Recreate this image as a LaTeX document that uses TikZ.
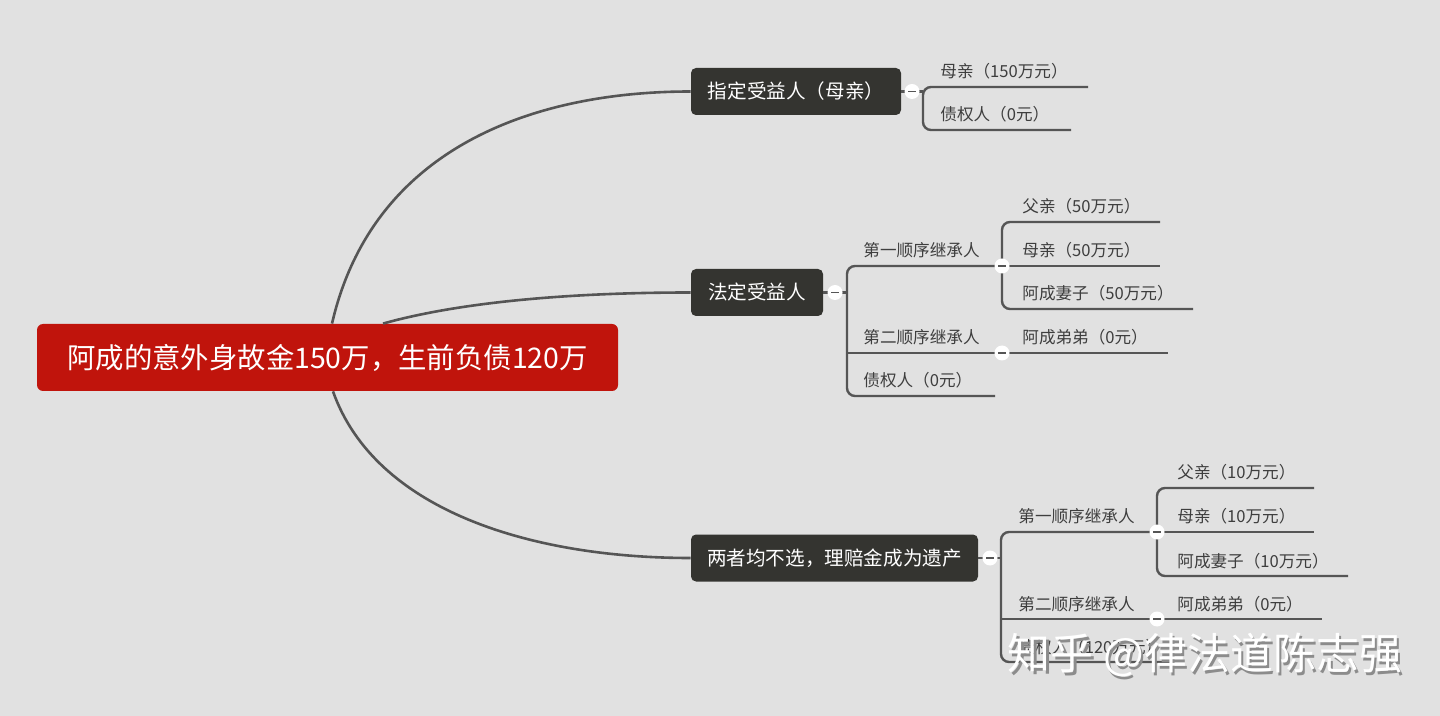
\documentclass[tikz,border=0pt]{standalone}
\usepackage{fontspec}
\newfontfamily\cjk{Noto Sans CJK SC}
\definecolor{bggray}{RGB}{225,225,225}
\definecolor{rootred}{RGB}{192,20,12}
\definecolor{topicdark}{RGB}{52,52,48}
\definecolor{linegray}{RGB}{85,85,85}
\definecolor{leafgray}{RGB}{62,62,62}
\tikzset{
	root/.style={fill=rootred, rounded corners=3pt, text=white, minimum width=290.5pt, minimum height=33.5pt, font=\cjk\fontsize{14.2}{16}\selectfont},
	topic/.style={fill=topicdark, rounded corners=2.5pt, text=white, minimum height=23.5pt, font=\cjk\fontsize{9.8}{11}\selectfont},
	leaf/.style={anchor=base west, inner sep=0pt, text=leafgray, font=\cjk\fontsize{8.3}{10}\selectfont},
	branch/.style={draw=linegray, line width=1.2pt},
	knob/.style={circle, fill=white, minimum size=7.5pt, inner sep=0pt,
		path picture={\draw[linegray, line width=0.9pt] ([xshift=-1.8pt]path picture bounding box.center) -- ([xshift=1.8pt]path picture bounding box.center);}}
}
\begin{document}
\begin{tikzpicture}[x=0.5pt, y=-0.5pt]
	\fill[bggray] (0,0) rectangle (1440,716);
	\useasboundingbox (0,0) rectangle (1440,716);
	% центральная тема и три ветви
	\node[root] (root) at (327.5,357.5) {阿成的意外身故金150万，生前负债120万};
	\node[topic, minimum width=105pt] (t1) at (796,91.5) {指定受益人（母亲）};
	\node[topic, minimum width=66pt] (t2) at (757,292.5) {法定受益人};
	\node[topic, minimum width=143.5pt] (t3) at (834.5,558) {两者均不选，理赔金成为遗产};
	\draw[branch, line width=1.3pt] ([xshift=2.25pt]root.north) .. controls (372,150) and (530,91.5) .. (t1.west);
	\draw[branch, line width=1.3pt] ([xshift=27.75pt]root.north) .. controls (460,302) and (570,292.5) .. (t2.west);
	\draw[branch, line width=1.3pt] ([xshift=2.75pt]root.south) .. controls (375,510) and (530,558) .. (t3.west);
	% точки ветвления
	\coordinate (b1) at (923,91.5);
	\coordinate (b2) at (847,292.5);
	\coordinate (b3) at (1001,558);
	\coordinate (k1) at (912,91.5);
	\coordinate (k2) at (835,292.5);
	\coordinate (k3) at (990,558);
	\coordinate (k21) at (1002,266);
	\coordinate (k22) at (1002,353);
	\coordinate (k31) at (1157,532);
	\coordinate (k32) at (1157,619);
	% 1: 指定受益人
	\node[leaf] (l11) at (940,78) {母亲（150万元）};
	\node[leaf] (l12) at (940,121) {债权人（0元）};
	\coordinate (e11) at (1088,87);
	\coordinate (e12) at (1071,130);
	\draw[branch] (t1.east) -- (b1);
	\draw[branch, rounded corners=4pt] (e11) -- (e11 -| b1) -- (e12 -| b1) -- (e12);
	% 2: 法定受益人
	\node[leaf] (l21) at (863,257) {第一顺序继承人};
	\node[leaf] (l22) at (863,344) {第二顺序继承人};
	\node[leaf] (l23) at (863,387) {债权人（0元）};
	\coordinate (e23) at (995,396);
	\draw[branch] (t2.east) -- (b2);
	\draw[branch, rounded corners=4pt] (k21) -- (k21 -| b2) -- (e23 -| b2) -- (e23);
	\node[leaf] (l211) at (1022,213) {父亲（50万元）};
	\node[leaf] (l212) at (1022,257) {母亲（50万元）};
	\node[leaf] (l213) at (1022,300) {阿成妻子（50万元）};
	\coordinate (e211) at (1160,222);
	\coordinate (e212) at (1160,266);
	\coordinate (e213) at (1193,309);
	\draw[branch, rounded corners=4pt] (e211) -- (e211 -| k21) -- (e213 -| k21) -- (e213);
	\draw[branch] (k21) -- (e212);
	\node[leaf] (l221) at (1022,344) {阿成弟弟（0元）};
	\coordinate (e221) at (1168,353);
	\draw[branch] (k22 -| b2) -- (e221);
	% 3: 两者均不选
	\node[leaf] (l31) at (1018,523) {第一顺序继承人};
	\node[leaf] (l32) at (1018,610) {第二顺序继承人};
	\node[leaf] (l33) at (1018,653) {债权人（120万元）};
	\coordinate (e33) at (1170,662);
	\draw[branch] (t3.east) -- (b3);
	\draw[branch, rounded corners=4pt] (k31) -- (k31 -| b3) -- (e33 -| b3) -- (e33);
	\node[leaf] (l311) at (1177,479) {父亲（10万元）};
	\node[leaf] (l312) at (1177,523) {母亲（10万元）};
	\node[leaf] (l313) at (1177,567) {阿成妻子（10万元）};
	\coordinate (e311) at (1314,488);
	\coordinate (e312) at (1314,532);
	\coordinate (e313) at (1348,576);
	\draw[branch, rounded corners=4pt] (e311) -- (e311 -| k31) -- (e313 -| k31) -- (e313);
	\draw[branch] (k31) -- (e312);
	\node[leaf] (l321) at (1177,610) {阿成弟弟（0元）};
	\coordinate (e321) at (1322,619);
	\draw[branch] (k32 -| b3) -- (e321);
	% кнопки сворачивания
	\foreach \k in {k1,k2,k3,k21,k22,k31,k32}{ \node[knob] at (\k) {}; }
	% водяной знак
	\node[text=black!45, font=\cjk\fontsize{21.5}{24}\selectfont] (markshadow) at (1207.5,658) {知乎 @律法道陈志强};
	\node[text=white, font=\cjk\fontsize{21.5}{24}\selectfont] (mark) at (1205,655) {知乎 @律法道陈志强};
\end{tikzpicture}
\end{document}
